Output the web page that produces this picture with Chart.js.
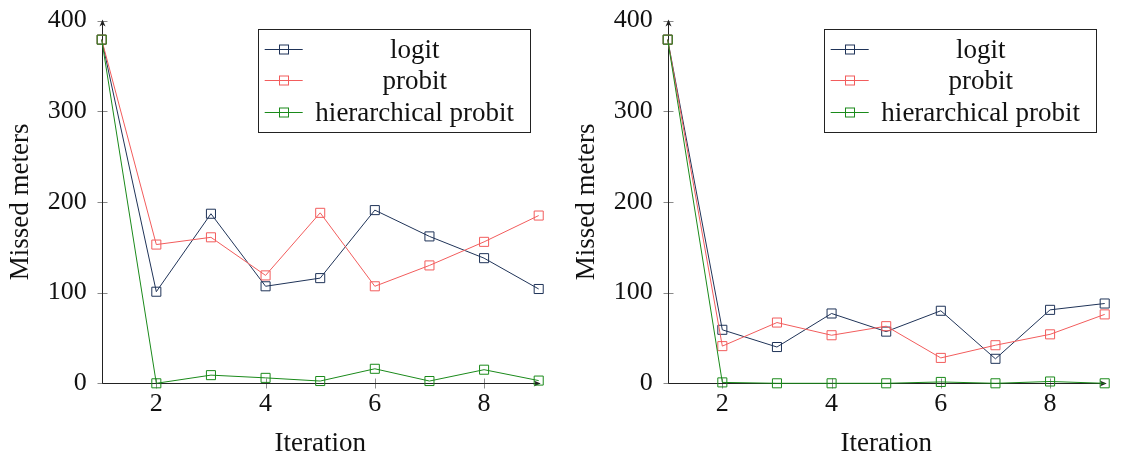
<!DOCTYPE html>
<html lang="en">
<head>
<meta charset="UTF-8">
<title>Missed meters per iteration</title>
<style>
  html, body { margin: 0; padding: 0; background: #fff; }
  .panel { position: absolute; top: 0; height: 456px; }
</style>
</head>
<body>
<div class="panel" style="left:0;width:560px"><canvas id="leftChart" width="560" height="456"></canvas></div>
<div class="panel" style="left:566px;width:557px"><canvas id="rightChart" width="557" height="456"></canvas></div>

<script src="https://cdn.jsdelivr.net/npm/chart.js"></script>
<script>
// values
const iterations = [1, 2, 3, 4, 5, 6, 7, 8, 9];
const seriesNames = ['logit', 'probit', 'hierarchical probit'];

const leftLogit  = [379, 101, 187, 107, 116, 191, 162, 138, 104];
const leftProbit = [379, 153, 161, 119, 188, 107, 130, 156, 185];
const leftHier   = [379, 0, 9, 6, 2.5, 16, 2.5, 15, 3];

const rightLogit  = [379, 59, 40, 77, 57, 80, 27, 81, 88];
const rightProbit = [379, 41, 67, 53, 63, 28, 42, 54, 76];
const rightHier   = [379, 1, 0, 0, 0, 1.5, 0, 2, 0];

const xTicks = [2, 4, 6, 8];
const yTicks = [0, 100, 200, 300, 400];

const colors = ['#1f3358', '#f25c5c', '#1a8a1a'];
const serif = "'Liberation Serif', 'DejaVu Serif', serif";

// pgfplots style axis lines with arrows and centered tick marks
const axisLines = {
  id: 'axisLines',
  beforeDatasetsDraw(chart) {
    const ctx = chart.ctx;
    const xs = chart.scales.x, ys = chart.scales.y;
    const x0 = Math.round(xs.getPixelForValue(xs.min)) + 0.5;
    const y0 = Math.round(ys.getPixelForValue(0)) + 0.5;
    const xEnd = xs.getPixelForValue(xs.max) + 2;
    const yEnd = ys.getPixelForValue(ys.max) - 1;
    ctx.save();
    // ticks
    ctx.strokeStyle = '#8a8a8a';
    ctx.lineWidth = 1;
    ctx.beginPath();
    xTicks.forEach(v => {
      const px = Math.round(xs.getPixelForValue(v)) + 0.5;
      ctx.moveTo(px, y0 - 5); ctx.lineTo(px, y0 + 5);
    });
    yTicks.forEach(v => {
      const py = Math.round(ys.getPixelForValue(v)) + 0.5;
      ctx.moveTo(x0 - 5, py); ctx.lineTo(x0 + 5, py);
    });
    ctx.stroke();
    // axis lines
    ctx.strokeStyle = '#222';
    ctx.fillStyle = '#222';
    ctx.beginPath();
    ctx.moveTo(x0, y0); ctx.lineTo(xEnd - 4, y0);
    ctx.moveTo(x0, y0); ctx.lineTo(x0, yEnd + 4);
    ctx.stroke();
    // arrow heads
    ctx.beginPath();
    ctx.moveTo(xEnd, y0); ctx.lineTo(xEnd - 7, y0 - 3); ctx.lineTo(xEnd - 5, y0); ctx.lineTo(xEnd - 7, y0 + 3);
    ctx.closePath(); ctx.fill();
    ctx.beginPath();
    ctx.moveTo(x0, yEnd); ctx.lineTo(x0 - 3, yEnd + 7); ctx.lineTo(x0, yEnd + 5); ctx.lineTo(x0 + 3, yEnd + 7);
    ctx.closePath(); ctx.fill();
    ctx.restore();
  }
};

// boxed legend, text centered in its column
const boxLegend = {
  id: 'boxLegend',
  afterDraw(chart) {
    const ctx = chart.ctx;
    const area = chart.chartArea;
    const w = 272, h = 103;
    const left = area.right - 9 - w;
    const top = area.top + 8;
    ctx.save();
    ctx.fillStyle = '#fff';
    ctx.fillRect(left, top, w, h);
    ctx.strokeStyle = '#222';
    ctx.lineWidth = 1;
    ctx.strokeRect(Math.round(left) + 0.5, Math.round(top) + 0.5, w, h);
    ctx.font = '27px ' + serif;
    ctx.textAlign = 'center';
    ctx.textBaseline = 'middle';
    const rows = [20, 51.5, 83];
    chart.data.datasets.forEach((ds, i) => {
      const cy = Math.round(top + rows[i]) + 0.5;
      ctx.strokeStyle = ds.borderColor;
      ctx.beginPath();
      ctx.moveTo(left + 7, cy); ctx.lineTo(left + 45, cy);
      ctx.stroke();
      ctx.strokeRect(Math.round(left + 26) - 4.5, cy - 4.5, 9, 9);
      ctx.fillStyle = '#111';
      ctx.fillText(ds.label, left + 157, cy + 1);
    });
    ctx.restore();
  }
};

function makeChart(id, values, padRight) {
  const datasets = values.map((vals, i) => ({
    label: seriesNames[i],
    data: iterations.map((x, j) => ({ x: x, y: vals[j] })),
    borderColor: colors[i],
    backgroundColor: 'transparent',
    borderWidth: 1,
    pointStyle: 'rect',
    pointRadius: 6.4,
    pointBorderWidth: 1,
    pointBackgroundColor: 'transparent',
    pointBorderColor: colors[i],
    tension: 0,
    clip: false,
    order: 3 - i
  }));

  return new Chart(document.getElementById(id), {
    type: 'line',
    data: { datasets: datasets },
    options: {
      responsive: false,
      animation: false,
      layout: { padding: { top: 20.6, right: padRight, bottom: 0, left: 0 } },
      plugins: { legend: { display: false }, tooltip: { enabled: false } },
      scales: {
        x: {
          type: 'linear',
          min: 1,
          max: 9,
          grid: { display: false },
          border: { display: false },
          afterBuildTicks: s => { s.ticks = xTicks.map(v => ({ value: v })); },
          afterFit: s => { s.height = 72.7; s.paddingLeft = 0; s.paddingRight = 0; },
          ticks: { padding: 0, color: '#111', font: { family: serif, size: 26, lineHeight: 1.0 } },
          title: {
            display: true, text: 'Iteration', color: '#111',
            font: { family: serif, size: 27, lineHeight: 0.93 },
            padding: { top: 0, bottom: 0 }
          }
        },
        y: {
          min: 0,
          max: 400,
          grid: { display: false },
          border: { display: false },
          afterBuildTicks: s => { s.ticks = yTicks.map(v => ({ value: v })); },
          afterFit: s => { s.width = 101.7; s.paddingTop = 0; s.paddingBottom = 0; },
          ticks: { padding: 7, color: '#111', font: { family: serif, size: 26 } },
          title: {
            display: true, text: 'Missed meters', color: '#111',
            font: { family: serif, size: 27, lineHeight: 1.2 },
            padding: { top: 5, bottom: 0 }
          }
        }
      }
    },
    plugins: [axisLines, boxLegend]
  });
}

makeChart('leftChart', [leftLogit, leftProbit, leftHier], 21.3);
makeChart('rightChart', [rightLogit, rightProbit, rightHier], 18.3);
</script>
</body>
</html>
